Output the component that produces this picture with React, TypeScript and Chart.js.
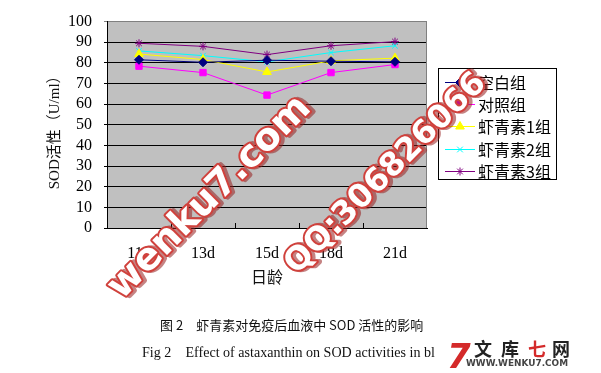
import React, { useEffect, useRef } from 'react';
import { Chart, registerables } from 'chart.js';
import { drawPoint } from 'chart.js/helpers';

Chart.register(...registerables);

// ---- data ----
const categories = ['11d', '13d', '15d', '18d', '21d'];
const seriesNames = ['空白组', '对照组', '虾青素1组', '虾青素2组', '虾青素3组'];
const blankGroup = [81.5, 80.3, 81.3, 80.8, 80.5];
const controlGroup = [78.4, 75.3, 64.4, 75.3, 79.2];
const astaGroup1 = [84.3, 81.6, 75.6, 81.0, 82.3];
const astaGroup2 = [85.8, 83.5, 80.5, 85.0, 88.3];
const astaGroup3 = [89.5, 88.0, 84.0, 88.3, 90.3];
const yMin = 0;
const yMax = 100;
const yStep = 10;
const yTitle = 'SOD活性（U/ml）';
const xTitle = '日龄';
const captionCn = '图 2　虾青素对免疫后血液中 SOD 活性的影响';
const captionEn = 'Fig 2    Effect of astaxanthin on SOD activities in bl';
const watermark1 = 'wenku7.com';
const watermark2 = 'QQ:306826066';

const seriesValues = [blankGroup, controlGroup, astaGroup1, astaGroup2, astaGroup3];
const seriesColors = ['#000080', '#FF00FF', '#FFFF00', '#00FFFF', '#800080'];
const seriesPoints = ['rectRot', 'rect', 'triangle', 'crossRot', 'star'];
const seriesRadius = [4.5, 4.5, 5, 4, 4];

const SERIF = "'Liberation Serif', 'Noto Sans CJK SC', serif";
const CJK = "'Noto Sans CJK SC', sans-serif";

function drawWatermark(ctx: CanvasRenderingContext2D, text: string, cx: number, cy: number, len: number, angle: number) {
  ctx.save();
  ctx.translate(cx, cy);
  ctx.rotate(angle);
  let size = 40;
  ctx.font = `bold ${size}px 'DejaVu Sans'`;
  const w = ctx.measureText(text).width;
  size = size * len / w;
  ctx.font = `bold ${size}px 'DejaVu Sans'`;
  ctx.textAlign = 'center';
  ctx.textBaseline = 'middle';
  ctx.lineJoin = 'round';
  ctx.strokeStyle = 'rgba(150,30,30,0.55)';
  ctx.lineWidth = 5;
  ctx.strokeText(text, 2, 2);
  ctx.strokeStyle = '#d0413c';
  ctx.lineWidth = 4;
  ctx.strokeText(text, 0, 0);
  ctx.fillStyle = '#ffffff';
  ctx.fillText(text, 0, 0);
  ctx.restore();
}

const decorPlugin = {
  id: 'decor',
  beforeDraw(chart: any) {
    const { ctx, chartArea: a } = chart;
    ctx.save();
    ctx.fillStyle = '#ffffff';
    ctx.fillRect(0, 0, chart.width, chart.height);
    ctx.fillStyle = '#C0C0C0';
    ctx.fillRect(a.left, a.top, a.right - a.left, a.bottom - a.top);
    ctx.restore();
  },
  beforeDatasetsDraw(chart: any) {
    const { ctx, chartArea: a } = chart;
    const xs = chart.scales.x;
    ctx.save();
    ctx.strokeStyle = '#808080';
    ctx.lineWidth = 1;
    ctx.beginPath();
    ctx.moveTo(Math.round(a.right) - 0.5, a.top);
    ctx.lineTo(Math.round(a.right) - 0.5, a.bottom);
    ctx.stroke();
    ctx.strokeStyle = '#000';
    ctx.beginPath();
    for (let i = 1; i < categories.length; i++) {
      const x = Math.round((xs.getPixelForValue(i - 1) + xs.getPixelForValue(i)) / 2) + 0.5;
      ctx.moveTo(x, a.bottom - 5);
      ctx.lineTo(x, a.bottom);
    }
    ctx.stroke();
    ctx.restore();
  },
  afterDraw(chart: any) {
    const { ctx, chartArea: a } = chart;
    ctx.save();
    // axis titles
    ctx.fillStyle = '#111';
    ctx.font = `15px ${SERIF}`;
    ctx.textAlign = 'center';
    ctx.textBaseline = 'middle';
    ctx.save();
    ctx.translate(55, (a.top + a.bottom) / 2 + 4);
    ctx.rotate(-Math.PI / 2);
    ctx.fillText(yTitle, 0, 0);
    ctx.restore();
    ctx.font = `16px ${CJK}`;
    ctx.fillText(xTitle, (a.left + a.right) / 2, 277);

    // legend
    const lx = 438, ly = 68, lw = 118, lh = 111;
    ctx.fillStyle = '#fff';
    ctx.fillRect(lx, ly, lw, lh);
    ctx.strokeStyle = '#000';
    ctx.lineWidth = 1;
    ctx.strokeRect(lx + 0.5, ly + 0.5, lw, lh);
    chart.data.datasets.forEach((ds: any, i: number) => {
      const y = 81.5 + i * 22.4;
      ctx.strokeStyle = ds.borderColor;
      ctx.lineWidth = 1;
      ctx.beginPath();
      ctx.moveTo(445, Math.round(y) + 0.5);
      ctx.lineTo(475, Math.round(y) + 0.5);
      ctx.stroke();
      ctx.fillStyle = ds.backgroundColor;
      drawPoint(ctx, { pointStyle: ds.pointStyle, radius: ds.pointRadius, borderWidth: 1, rotation: 0 } as any, 460, Math.round(y) + 0.5);
      ctx.fillStyle = '#000';
      ctx.font = `16px ${CJK}`;
      ctx.textAlign = 'left';
      ctx.textBaseline = 'middle';
      ctx.fillText(ds.label, 478, y + 1);
    });

    // captions
    ctx.fillStyle = '#111';
    ctx.textAlign = 'left';
    ctx.textBaseline = 'middle';
    ctx.font = `13px ${CJK}`;
    ctx.fillText(captionCn, 160, 325, 277);
    ctx.font = `15px ${SERIF}`;
    ctx.fillText(captionEn, 142, 353, 293);

    // site logo
    ctx.fillStyle = '#d42a2a';
    ctx.font = `italic bold 34px 'DejaVu Sans'`;
    ctx.textBaseline = 'alphabetic';
    ctx.fillText('7', 447, 368);
    ctx.font = `bold 18px ${CJK}`;
    ctx.textBaseline = 'middle';
    ctx.textAlign = 'center';
    const logoChars = ['文', '库', '七', '网'];
    const logoX = [483, 510, 537, 561];
    logoChars.forEach((c, i) => {
      ctx.fillStyle = c === '七' ? '#d42a2a' : '#222';
      ctx.fillText(c, logoX[i], 349);
    });
    ctx.fillStyle = '#444';
    ctx.font = `bold 9px 'DejaVu Sans'`;
    ctx.textAlign = 'left';
    ctx.fillText('WWW.WENKU7.COM', 466, 364, 102);

    // watermarks
    drawWatermark(ctx, watermark1, 210, 198, 270, -Math.PI / 4);
    drawWatermark(ctx, watermark2, 386, 174, 270, -Math.PI / 4);
    ctx.restore();
  },
};

export default function App() {
  const canvasRef = useRef<HTMLCanvasElement | null>(null);

  useEffect(() => {
    const canvas = canvasRef.current;
    if (!canvas) return;
    const chart = new Chart(canvas, {
      type: 'line',
      data: {
        labels: categories,
        datasets: seriesNames.map((name, i) => ({
          label: name,
          data: seriesValues[i],
          borderColor: seriesColors[i],
          backgroundColor: seriesColors[i],
          borderWidth: 1,
          pointStyle: seriesPoints[i] as any,
          pointRadius: seriesRadius[i],
          pointBorderWidth: 1,
          tension: 0,
          fill: false,
        })),
      },
      options: {
        responsive: false,
        animation: false,
        devicePixelRatio: 1,
        layout: { padding: { left: 0, top: 20, right: 174, bottom: 0 } },
        plugins: {
          legend: { display: false },
          tooltip: { enabled: false },
        },
        scales: {
          x: {
            type: 'category',
            offset: true,
            grid: { display: false, drawTicks: false },
            border: { display: true, color: '#000', width: 1 },
            ticks: {
              color: '#000',
              font: { family: SERIF, size: 16 },
              padding: 16,
              maxRotation: 0,
              autoSkip: false,
            },
            afterFit: (s: any) => { s.height = 145; },
          },
          y: {
            min: yMin,
            max: yMax,
            ticks: {
              stepSize: yStep,
              autoSkip: false,
              color: '#000',
              font: { family: SERIF, size: 16 },
              padding: 12,
            },
            grid: {
              color: (c: any) => (c.tick && c.tick.value === yMax ? '#808080' : '#000'),
              lineWidth: 1,
              tickLength: 3,
              drawTicks: true,
            },
            border: { display: true, color: '#000', width: 1 },
            afterFit: (s: any) => { s.width = 107; },
          },
        },
      },
      plugins: [decorPlugin],
    });
    return () => chart.destroy();
  }, []);

  return (
    <div style={{ position: 'fixed', left: 0, top: 0, width: 601, height: 373, background: '#fff' }}>
      <canvas ref={canvasRef} width={601} height={373} style={{ display: 'block' }} />
    </div>
  );
}
